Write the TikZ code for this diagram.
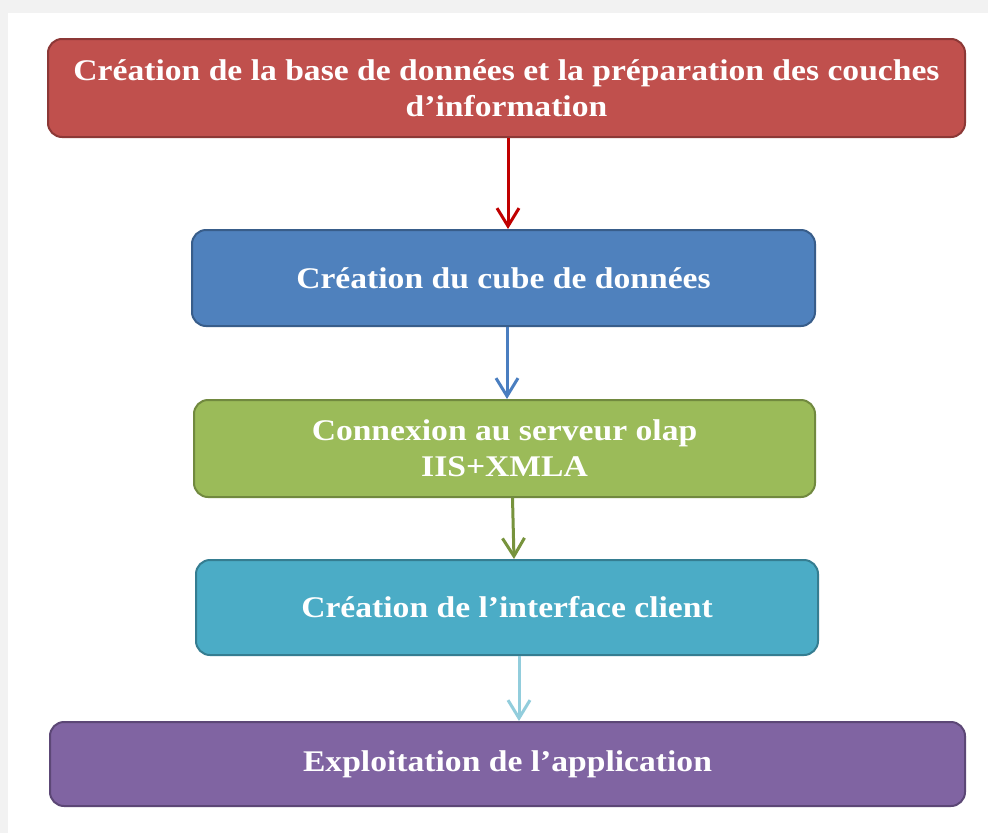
\documentclass[tikz,border=0pt]{standalone}
\usepackage{fontspec}
\setmainfont{Liberation Serif}
\newfontfamily\boxfont{Liberation Serif}[FakeStretch=1.12]
\usetikzlibrary{arrows.meta}
\definecolor{bgband}{HTML}{F2F2F2}
\definecolor{redfill}{HTML}{C0504D}
\definecolor{redline}{HTML}{8C3836}
\definecolor{bluefill}{HTML}{4F81BD}
\definecolor{blueline}{HTML}{385D8A}
\definecolor{greenfill}{HTML}{9BBB59}
\definecolor{greenline}{HTML}{71893F}
\definecolor{cyanfill}{HTML}{4BACC6}
\definecolor{cyanline}{HTML}{357D91}
\definecolor{purplefill}{HTML}{8064A2}
\definecolor{purpleline}{HTML}{5C4776}
\definecolor{arrred}{HTML}{C00000}
\definecolor{arrblue}{HTML}{4A7EC0}
\definecolor{arrgreen}{HTML}{77933C}
\definecolor{arrcyan}{HTML}{92CDDC}
\tikzset{
  stepbox/.style={draw, line width=2pt, rounded corners=14pt, align=center,
    text=white, font=\boxfont\bfseries\fontsize{30}{36}\selectfont, inner sep=0pt},
  flowarrow/.style={line width=3pt, -{Straight Barb[length=18pt,width=22pt,line width=3pt]}}
}
\begin{document}
\begin{tikzpicture}[x=1pt,y=-1pt]
\useasboundingbox (0,0) rectangle (988,833);
\fill[white] (0,0) rectangle (988,833);
\fill[bgband] (0,0) rectangle (988,13);
\fill[bgband] (0,0) rectangle (8,833);
\node[stepbox, fill=redfill, draw=redline, minimum width=917pt, minimum height=98pt]
  (b1) at (506.5,88) {Création de la base de données et la préparation des couches\\d’information};
\node[stepbox, fill=bluefill, draw=blueline, minimum width=623pt, minimum height=96pt]
  (b2) at (503.5,278) {Création du cube de données};
\node[stepbox, fill=greenfill, draw=greenline, minimum width=621pt, minimum height=97pt]
  (b3) at (504.5,448.5) {Connexion au serveur olap\\IIS+XMLA};
\node[stepbox, fill=cyanfill, draw=cyanline, minimum width=622pt, minimum height=95pt]
  (b4) at (507,607.5) {Création de l’interface client};
\node[stepbox, fill=purplefill, draw=purpleline, minimum width=915pt, minimum height=84pt]
  (b5) at (507.5,764) {Exploitation de l’application};
\draw[flowarrow, arrred] ([xshift=1.5pt]b1.south) -- ([xshift=4.5pt]b2.north);
\draw[flowarrow, arrblue] ([xshift=3.5pt]b2.south) -- ([xshift=2.5pt]b3.north);
\draw[flowarrow, arrgreen] ([xshift=8pt]b3.south) -- ([xshift=7pt]b4.north);
\draw[flowarrow, arrcyan] ([xshift=12pt]b4.south) -- ([xshift=11.5pt]b5.north);
\end{tikzpicture}
\end{document}
